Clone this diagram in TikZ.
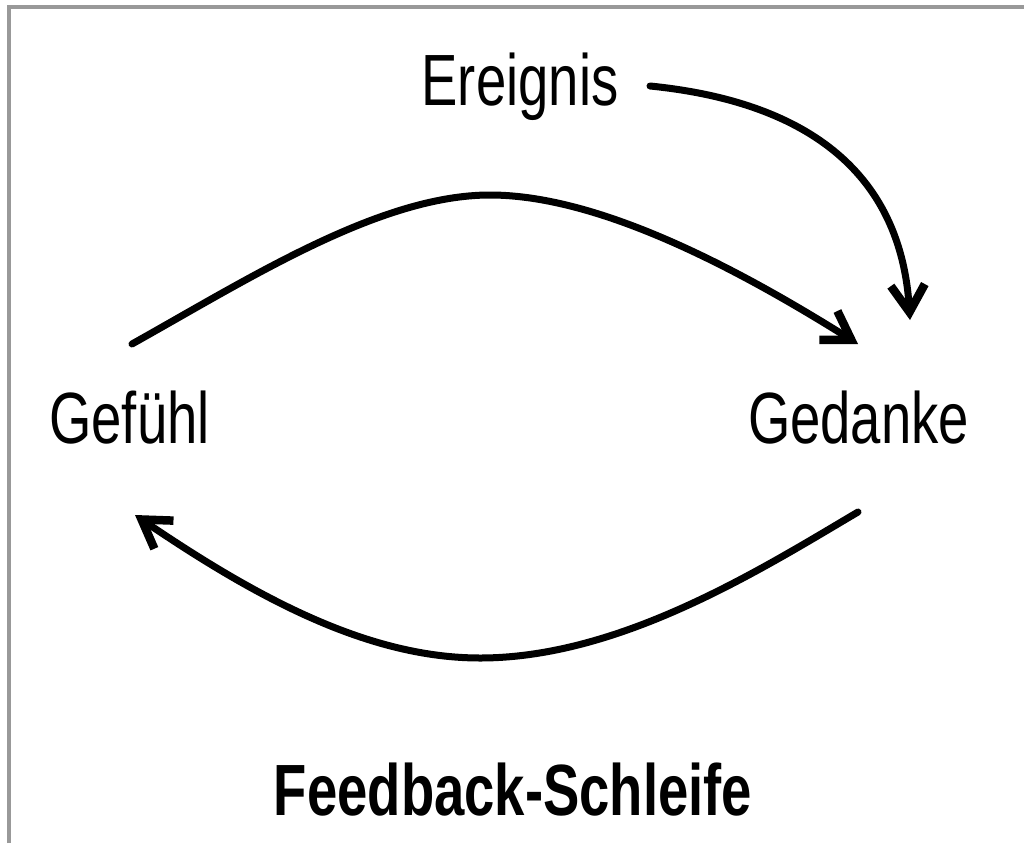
\documentclass[tikz,border=0pt]{standalone}
\usepackage{fontspec}
\newfontfamily\lab{Liberation Sans}[FakeStretch=0.75]
\usetikzlibrary{arrows.meta}
\begin{document}
\begin{tikzpicture}[x=1pt,y=-1pt,
  lbl/.style={inner sep=0pt, anchor=base, font=\lab\fontsize{72.6}{80}\selectfont},
  conn/.style={line width=7pt, line cap=round, -{Straight Barb[length=27pt,width=34pt,line width=8.5pt]}},
  frame/.style={draw=black!40, line width=4pt}]
\useasboundingbox (0,0) rectangle (1024,843);
\draw[frame] (8.5,843) coordinate (fb) -- (8.5,7.5) coordinate (fc) -- (1024,7.5) coordinate (fr);
\node[lbl] (ereignis) at (520,105) {Ereignis};
\node[lbl] (gefuehl) at (129.5,443) {Gefühl};
\node[lbl] (gedanke) at (858.5,443) {Gedanke};
\node[lbl, font=\lab\bfseries\fontsize{72.6}{80}\selectfont] (title) at (513,815) {Feedback-Schleife};
\coordinate (e0) at (650,86);
\coordinate (e1) at (910,320);
\coordinate (g0) at (132,344);
\coordinate (g1) at (858,344);
\coordinate (b0) at (858,512);
\coordinate (b1) at (135,515);
\draw[conn] (e0) .. controls (790,100) and (900,160) .. (e1);
\draw[conn] (g0) .. controls (250,278) and (380,195) .. (490,195) .. controls (600,195) and (740,270) .. (g1);
\draw[conn] (b0) .. controls (760,570) and (620,658) .. (480,658) .. controls (370,658) and (260,600) .. (b1);
\end{tikzpicture}
\end{document}
